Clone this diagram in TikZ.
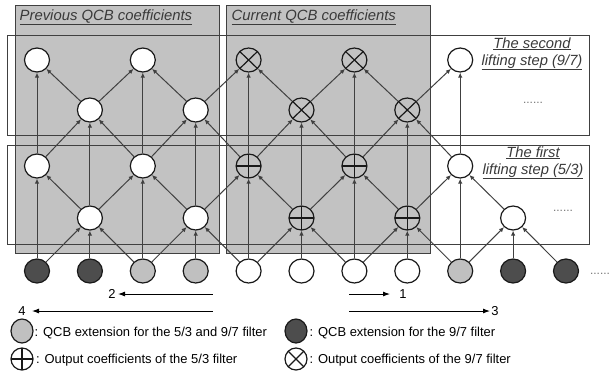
\documentclass[tikz,border=0pt]{standalone}
\usepackage{fontspec}
\setmainfont{Liberation Sans}
\usetikzlibrary{arrows.meta,shapes.geometric}
\definecolor{boxg}{HTML}{C2C2C2}
\definecolor{lightg}{HTML}{C0C0C0}
\definecolor{darkg}{HTML}{4D4D4D}
\definecolor{edgeg}{HTML}{404040}
\definecolor{titleg}{HTML}{3A3A3A}
\begin{document}
\begin{tikzpicture}[x=1bp,y=-1bp,
  nd/.style={ellipse,draw=black!90,line width=1.2bp,minimum width=25bp,minimum height=24bp,inner sep=0pt},
  wn/.style={nd,fill=white},
  ln/.style={nd,fill=lightg},
  dn/.style={nd,fill=darkg},
  pn/.style={nd,path picture={\draw[black!90,line width=1.2bp]
     (path picture bounding box.west)--(path picture bounding box.east)
     (path picture bounding box.north)--(path picture bounding box.south);}},
  tn/.style={nd,path picture={\draw[black!90,line width=1.2bp]
     (path picture bounding box.north west)--(path picture bounding box.south east)
     (path picture bounding box.north east)--(path picture bounding box.south west);}},
  arr/.style={-{Latex[length=5bp,width=4.5bp]},draw=edgeg,line width=1bp},
  larr/.style={-{Latex[length=7bp,width=5bp]},draw=black,line width=0.9bp},
  qbox/.style={fill=boxg,draw=edgeg,line width=1bp},
  lbox/.style={draw=edgeg,line width=1bp},
  ttl/.style={inner sep=0pt,anchor=base west,text=titleg,font=\fontsize{14.9}{18}\selectfont\itshape},
  stl/.style={inner sep=0pt,anchor=base,text=titleg,font=\fontsize{14.8}{18}\selectfont\itshape},
  dots/.style={inner sep=0pt,anchor=base,text=black!55,font=\fontsize{12}{14}\selectfont},
  lgt/.style={inner sep=0pt,anchor=base west,font=\fontsize{13}{15}\selectfont},
  num/.style={inner sep=0pt,anchor=base,font=\fontsize{13}{15}\selectfont},
  lgn/.style={minimum width=22bp,minimum height=24bp}
]
\useasboundingbox (0,0) rectangle (612,375);
% QCB boxes
\draw[qbox] (15,5) rectangle (219,253);
\draw[qbox] (226,5) rectangle (430,253);
% lifting step frames
\draw[lbox] (7.5,35) rectangle (589,135);
\draw[lbox] (7.5,145) rectangle (589,244);
% titles
\node[ttl] (tprev) at (19.5,20) {\underline{Previous QCB coefficients}};
\node[ttl] (tcur) at (231.5,20) {\underline{Current QCB coefficients}};
\node[stl] (t2a) at (532,48) {\underline{The second}};
\node[stl] (t2b) at (532,65) {\underline{lifting step (9/7)}};
\node[stl] (t1a) at (533,157) {\underline{The first}};
\node[stl] (t1b) at (533,174) {\underline{lifting step (5/3)}};
\node[dots] (d2) at (533,103) {......};
\node[dots] (d1) at (563,211) {......};
\node[dots] (d0) at (600,274) {......};
% nodes
\foreach \i/\s in {0/dn,1/dn,2/ln,3/ln,4/wn,5/wn,6/wn,7/wn,8/ln,9/dn,10/dn}
  \node[\s] (b\i) at ({37+52.9*\i},271) {};
\foreach \i/\s in {1/wn,3/wn,5/pn,7/pn,9/wn}
  \node[\s] (p\i) at ({37+52.9*\i},218) {};
\foreach \i/\s in {0/wn,2/wn,4/pn,6/pn,8/wn}
  \node[\s] (q\i) at ({37+52.9*\i},166) {};
\foreach \i/\s in {1/wn,3/wn,5/tn,7/tn}
  \node[\s] (r\i) at ({37+52.9*\i},110) {};
\foreach \i/\s in {0/wn,2/wn,4/tn,6/tn,8/wn}
  \node[\s] (s\i) at ({37+52.9*\i},60) {};
% edges: first lifting step
\foreach \i/\a/\b in {1/0/2,3/2/4,5/4/6,7/6/8,9/8/10}{
  \draw[arr] (b\a) -- (p\i);
  \draw[arr] (b\i) -- (p\i);
  \draw[arr] (b\b) -- (p\i);
}
\foreach \i in {0,2,4,6,8} \draw[arr] (b\i) -- (q\i);
\foreach \f/\t in {1/0,1/2,3/2,3/4,5/4,5/6,7/6,7/8,9/8} \draw[arr] (p\f) -- (q\t);
% edges: second lifting step
\foreach \i in {1,3,5,7} \draw[arr] (p\i) -- (r\i);
\foreach \f/\t in {0/1,2/1,2/3,4/3,4/5,6/5,6/7,8/7} \draw[arr] (q\f) -- (r\t);
\foreach \i in {0,2,4,6,8} \draw[arr] (q\i) -- (s\i);
\foreach \f/\t in {1/0,1/2,3/2,3/4,5/4,5/6,7/6,7/8} \draw[arr] (r\f) -- (s\t);
% direction arrows
\coordinate (a2s) at (212.5,294); \coordinate (a2e) at (118,294);
\coordinate (a1s) at (349,294);   \coordinate (a1e) at (390,294);
\coordinate (a4s) at (212.5,311); \coordinate (a4e) at (32,311);
\coordinate (a3s) at (349,311);   \coordinate (a3e) at (490,311);
\draw[larr] (a2s) -- (a2e);
\draw[larr] (a1s) -- (a1e);
\draw[larr] (a4s) -- (a4e);
\draw[larr] (a3s) -- (a3e);
\node[num] (n2) at (112,298.5) {2};
\node[num] (n1) at (403,298.5) {1};
\node[num] (n4) at (22,315.5) {4};
\node[num] (n3) at (495,315.5) {3};
% legend
\node[ln,lgn] (lg1) at (22,331) {};
\node[lgt] (lt1) at (34.5,336) {: QCB extension for the 5/3 and 9/7 filter};
\node[dn,lgn] (lg2) at (296,331) {};
\node[lgt] (lt2) at (309.5,336) {: QCB extension for the 9/7 filter};
\node[pn,lgn,minimum height=22bp,fill=white] (lg3) at (22,359) {};
\node[lgt] (lt3) at (36,363.5) {: Output coefficients of the 5/3 filter};
\node[tn,lgn,minimum height=22bp,fill=white] (lg4) at (296,359) {};
\node[lgt] (lt4) at (309.5,363.5) {: Output coefficients of the 9/7 filter};
\end{tikzpicture}
\end{document}
